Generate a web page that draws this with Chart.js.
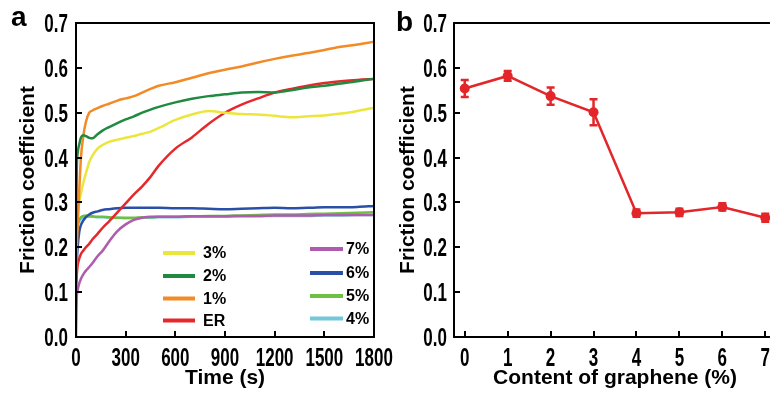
<!DOCTYPE html>
<html lang="en">
<head>
<meta charset="UTF-8">
<title>Friction coefficient</title>
<style>
  html, body { margin: 0; padding: 0; background: #fff; }
  body { width: 770px; height: 396px; overflow: hidden; position: relative; font-family: 'Liberation Sans', Arial, sans-serif; }
  canvas { position: absolute; top: 0; }
  #chartA { left: 0; }
  #chartB { left: 385px; }
  .panel { position: absolute; font-weight: bold; font-size: 28px; line-height: 28px; color: #000; }
</style>
</head>
<body>
<canvas id="chartA" width="400" height="396"></canvas>
<canvas id="chartB" width="400" height="396"></canvas>
<div class="panel" style="left:11px; top:3px;">a</div>
<div class="panel" style="left:396px; top:8px;">b</div>
<script src="https://cdn.jsdelivr.net/npm/chart.js"></script>
<script>
// ---- panel a: friction coefficient vs time ----
const time = [0, 5, 10, 20, 30, 45, 60, 80, 100, 130, 160, 200, 250, 300, 350, 400, 450, 500,
              600, 700, 800, 900, 1000, 1100, 1200, 1300, 1400, 1500, 1600, 1700, 1800];
const er  = [0.10, 0.14, 0.16, 0.175, 0.185, 0.193, 0.20, 0.208, 0.218, 0.23, 0.243, 0.258, 0.278, 0.298, 0.318, 0.336, 0.357, 0.382,
             0.42, 0.445, 0.475, 0.50, 0.518, 0.532, 0.545, 0.553, 0.560, 0.566, 0.570, 0.573, 0.575];
const g1  = [0.15, 0.20, 0.25, 0.33, 0.40, 0.45, 0.48, 0.50, 0.505, 0.51, 0.515, 0.52, 0.527, 0.532, 0.537, 0.545, 0.553, 0.560,
             0.568, 0.578, 0.588, 0.596, 0.603, 0.612, 0.620, 0.627, 0.633, 0.640, 0.647, 0.652, 0.658];
const g2  = [0.24, 0.38, 0.41, 0.43, 0.445, 0.45, 0.448, 0.444, 0.443, 0.452, 0.46, 0.468, 0.477, 0.485, 0.492, 0.500, 0.507, 0.513,
             0.523, 0.531, 0.537, 0.541, 0.545, 0.546, 0.545, 0.550, 0.556, 0.560, 0.565, 0.570, 0.576];
const g3  = [0.20, 0.24, 0.27, 0.30, 0.32, 0.345, 0.365, 0.39, 0.405, 0.42, 0.428, 0.435, 0.44, 0.444, 0.448, 0.453, 0.458, 0.466,
             0.484, 0.496, 0.504, 0.500, 0.497, 0.496, 0.493, 0.490, 0.492, 0.494, 0.498, 0.504, 0.511];
const g4  = [0.18, 0.22, 0.245, 0.258, 0.263, 0.266, 0.268, 0.268, 0.268, 0.267, 0.267, 0.266, 0.266, 0.265, 0.265, 0.266, 0.266, 0.267,
             0.267, 0.268, 0.268, 0.268, 0.269, 0.269, 0.270, 0.270, 0.270, 0.271, 0.271, 0.272, 0.272];
const g5  = [0.19, 0.23, 0.25, 0.262, 0.267, 0.27, 0.271, 0.27, 0.269, 0.268, 0.268, 0.267, 0.266, 0.266, 0.266, 0.267, 0.267, 0.268,
             0.268, 0.269, 0.270, 0.270, 0.271, 0.272, 0.273, 0.273, 0.274, 0.275, 0.276, 0.277, 0.278];
const g6  = [0.12, 0.17, 0.20, 0.235, 0.25, 0.26, 0.267, 0.273, 0.277, 0.28, 0.283, 0.285, 0.287, 0.288, 0.288, 0.288, 0.288, 0.288,
             0.287, 0.287, 0.286, 0.285, 0.286, 0.287, 0.288, 0.287, 0.288, 0.289, 0.289, 0.290, 0.292];
const g7  = [0.0, 0.09, 0.105, 0.12, 0.13, 0.14, 0.148, 0.156, 0.165, 0.18, 0.192, 0.213, 0.236, 0.251, 0.261, 0.266, 0.268, 0.268,
             0.268, 0.269, 0.269, 0.269, 0.270, 0.270, 0.271, 0.271, 0.271, 0.272, 0.272, 0.272, 0.272];
const timeTicks = [0, 300, 600, 900, 1200, 1500, 1800];
const yTicks = [0, 0.1, 0.2, 0.3, 0.4, 0.5, 0.6, 0.7];

// ---- panel b: friction coefficient vs graphene content ----
const content = [0, 1, 2, 3, 4, 5, 6, 7];
const friction = [0.554, 0.582, 0.537, 0.501, 0.276, 0.278, 0.290, 0.266];
const frictionErr = [0.019, 0.011, 0.019, 0.029, 0.008, 0.008, 0.008, 0.009];

const titleFont = { family: "'Liberation Sans', Arial, sans-serif", weight: 'bold', size: 21 };
const red = '#e3262a';

const pts = arr => arr.map((v, i) => ({ x: time[i], y: v }));
const line = (label, data, color) => ({
    label: label, data: pts(data), borderColor: color, backgroundColor: color,
    borderWidth: 2.5, pointRadius: 0, cubicInterpolationMode: 'monotone', fill: false
});

// frame, inward tick marks and condensed tick labels
const frameTicks = {
    id: 'frameTicks',
    afterDraw(chart) {
        const { ctx, chartArea: a, scales: { x, y } } = chart;
        ctx.save();
        ctx.strokeStyle = '#000';
        ctx.lineWidth = 2;
        ctx.strokeRect(a.left, a.top, a.right - a.left, a.bottom - a.top);
        ctx.beginPath();
        x.ticks.forEach(t => {
            const px = Math.round(x.getPixelForValue(t.value));
            ctx.moveTo(px, a.bottom);
            ctx.lineTo(px, a.bottom - 6);
        });
        y.ticks.forEach(t => {
            const py = Math.round(y.getPixelForValue(t.value));
            ctx.moveTo(a.left, py);
            ctx.lineTo(a.left + 6, py);
        });
        ctx.stroke();

        ctx.fillStyle = '#000';
        ctx.font = "bold 25px 'Liberation Sans', Arial, sans-serif";
        ctx.textBaseline = 'alphabetic';
        const gap = chart.options.labelGap;
        x.ticks.forEach(t => {
            ctx.save();
            ctx.translate(x.getPixelForValue(t.value), a.bottom + 29);
            ctx.scale(0.68, 1);
            ctx.textAlign = 'center';
            ctx.fillText(String(t.value), 0, 0);
            ctx.restore();
        });
        y.ticks.forEach(t => {
            ctx.save();
            ctx.translate(a.left - gap, y.getPixelForValue(t.value) + 9);
            ctx.scale(0.68, 1);
            ctx.textAlign = 'right';
            ctx.fillText(t.value.toFixed(1), 0, 0);
            ctx.restore();
        });
        ctx.restore();
    }
};

// two-column legend inside panel a
const legendCols = [['3%', '2%', '1%', 'ER'], ['7%', '6%', '5%', '4%']];
const inLegend = {
    id: 'inLegend',
    afterDraw(chart) {
        const { ctx, chartArea: a } = chart;
        const cols = [
            { x0: a.left + 87, x1: a.left + 119, tx: a.left + 127, rows: [-84, -61, -38.5, -16.5] },
            { x0: a.left + 234, x1: a.left + 267, tx: a.left + 270, rows: [-88, -64, -41, -18.5] }
        ];
        ctx.save();
        ctx.font = "bold 16px 'Liberation Sans', Arial, sans-serif";
        ctx.textBaseline = 'middle';
        ctx.fillStyle = '#000';
        legendCols.forEach((labels, c) => {
            labels.forEach((lab, r) => {
                const ds = chart.data.datasets.find(d => d.label === lab);
                const yy = a.bottom + cols[c].rows[r];
                ctx.strokeStyle = ds.borderColor;
                ctx.lineWidth = 4;
                ctx.beginPath();
                ctx.moveTo(cols[c].x0, yy);
                ctx.lineTo(cols[c].x1, yy);
                ctx.stroke();
                ctx.fillText(lab, cols[c].tx, yy + 1);
            });
        });
        ctx.restore();
    }
};

const errorBars = {
    id: 'errorBars',
    afterDatasetsDraw(chart) {
        const { ctx, scales: { x, y } } = chart;
        ctx.save();
        ctx.strokeStyle = red;
        ctx.lineWidth = 2.5;
        ctx.beginPath();
        content.forEach((c, i) => {
            const px = x.getPixelForValue(c);
            const top = y.getPixelForValue(friction[i] + frictionErr[i]);
            const bot = y.getPixelForValue(friction[i] - frictionErr[i]);
            ctx.moveTo(px, top); ctx.lineTo(px, bot);
            ctx.moveTo(px - 4, top); ctx.lineTo(px + 4, top);
            ctx.moveTo(px - 4, bot); ctx.lineTo(px + 4, bot);
        });
        ctx.stroke();
        ctx.restore();
    }
};

function axes(xOpts, xTitle, yWidth, yTitlePad) {
    return {
        x: Object.assign({
            type: 'linear',
            afterFit: s => { s.height = 59; },
            grid: { display: false },
            border: { display: true, color: '#000', width: 2 },
            ticks: { display: false },
            title: { display: true, text: xTitle, font: titleFont, color: '#000', padding: { top: 0, bottom: 5.5 } }
        }, xOpts),
        y: {
            min: 0, max: 0.7,
            afterBuildTicks: s => { s.ticks = yTicks.map(v => ({ value: v })); },
            afterFit: s => { s.width = yWidth; },
            grid: { display: false },
            border: { display: true, color: '#000', width: 2 },
            ticks: { display: false },
            title: { display: true, text: 'Friction coefficient', font: titleFont, color: '#000', padding: { top: yTitlePad, bottom: 0 } }
        }
    };
}

new Chart(document.getElementById('chartA').getContext('2d'), {
    type: 'line',
    data: {
        datasets: [
            line('2%', g2, '#1f8a40'),
            line('1%', g1, '#f28a25'),
            line('3%', g3, '#ece63c'),
            line('ER', er, '#e5282b'),
            line('6%', g6, '#2a4fa6'),
            line('7%', g7, '#ae5cae'),
            line('5%', g5, '#6ec043'),
            line('4%', g4, '#74c8da')
        ]
    },
    options: {
        responsive: false,
        animation: false,
        labelGap: 8,
        layout: { padding: { left: 0, right: 26, top: 23, bottom: 0 } },
        plugins: { legend: { display: false }, tooltip: { enabled: false } },
        scales: axes({
            min: 0, max: 1800,
            afterBuildTicks: s => { s.ticks = timeTicks.map(v => ({ value: v })); }
        }, 'Time (s)', 76, 15.4)
    },
    plugins: [frameTicks, inLegend]
});

new Chart(document.getElementById('chartB').getContext('2d'), {
    type: 'line',
    data: {
        datasets: [{
            label: 'Friction coefficient',
            data: content.map((c, i) => ({ x: c, y: friction[i] })),
            borderColor: red,
            backgroundColor: red,
            borderWidth: 2.5,
            pointRadius: 5,
            pointBorderWidth: 0,
            tension: 0
        }]
    },
    options: {
        responsive: false,
        animation: false,
        labelGap: 7,
        layout: { padding: { left: 0, right: 9, top: 23, bottom: 0 } },
        plugins: { legend: { display: false }, tooltip: { enabled: false } },
        scales: axes({
            min: -0.25, max: 7.25,
            afterBuildTicks: s => { s.ticks = content.map(v => ({ value: v })); }
        }, 'Content of graphene (%)', 69, 10.4)
    },
    plugins: [frameTicks, errorBars]
});
</script>
</body>
</html>
